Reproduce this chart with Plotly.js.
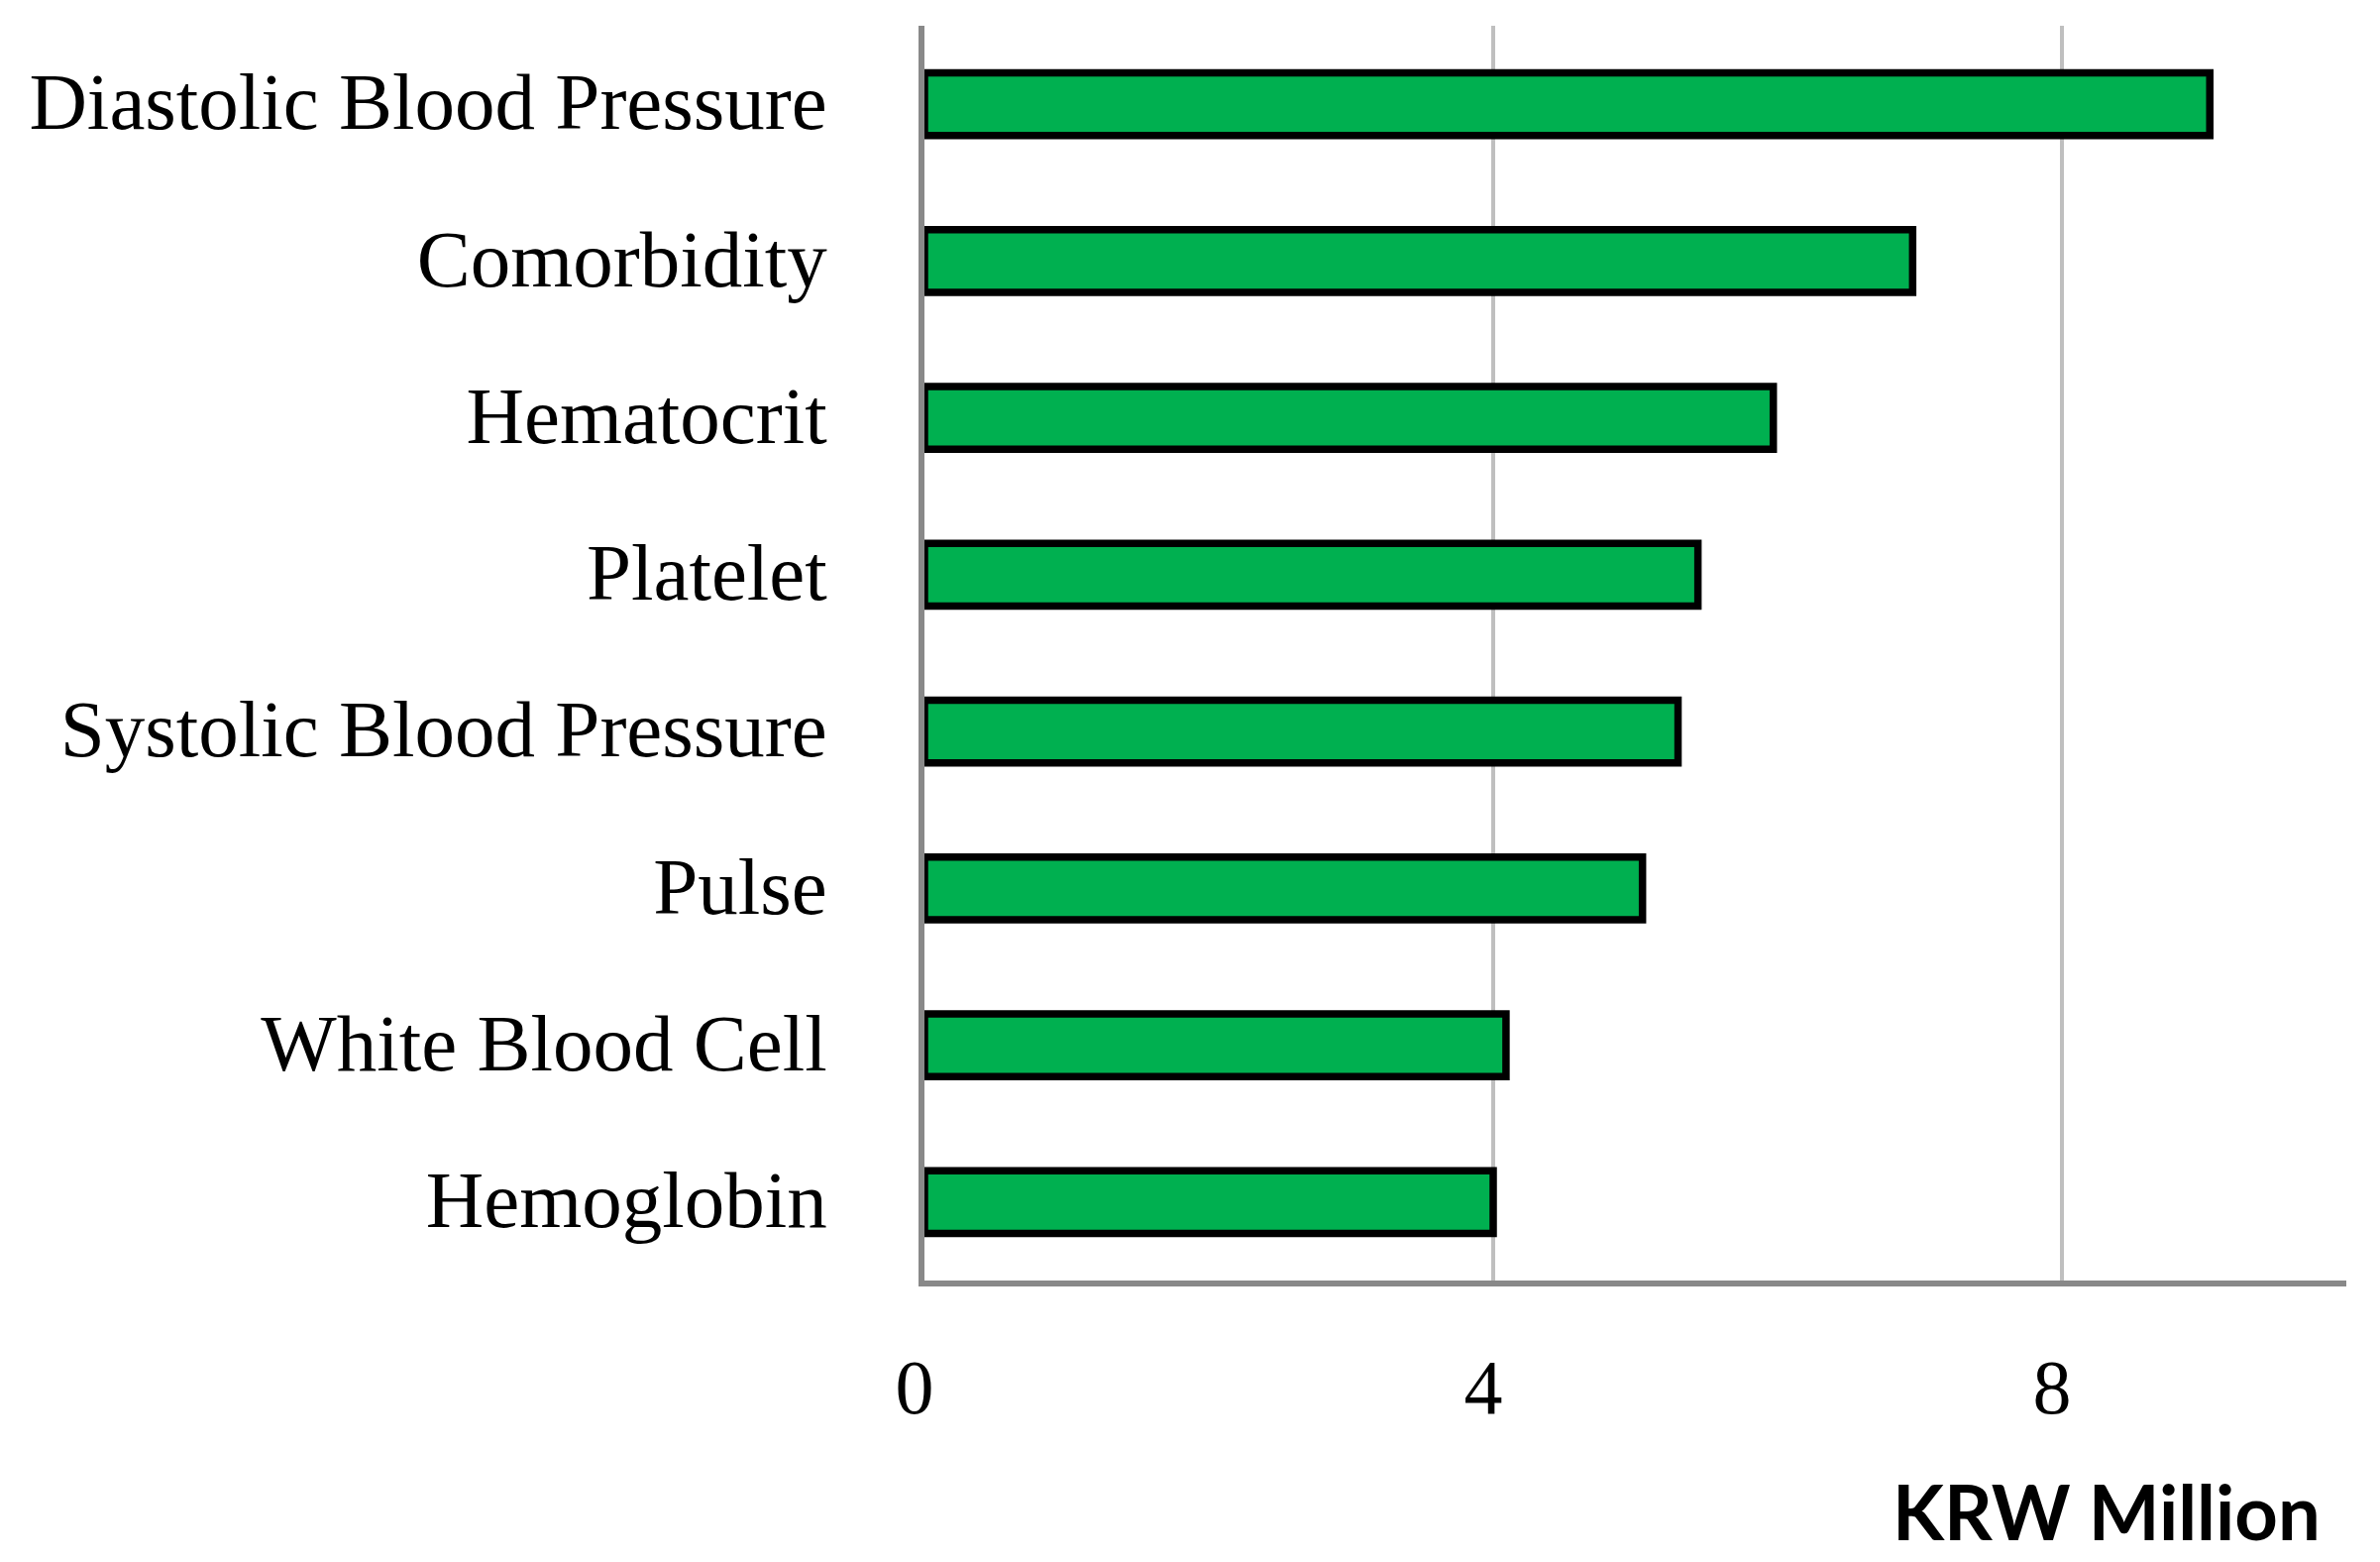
<!DOCTYPE html>
<html>
<head>
<meta charset="utf-8">
<script src="https://cdn.plot.ly/plotly-3.0.1.min.js"></script>
<style>
  html, body { margin: 0; padding: 0; background: #ffffff; }
  #chart { width: 2402px; height: 1576px; }
</style>
</head>
<body>
<div id="chart"></div>
<script>
// Categories, top to bottom
const categories = [
  "Diastolic Blood Pressure",
  "Comorbidity",
  "Hematocrit",
  "Platelet",
  "Systolic Blood Pressure",
  "Pulse",
  "White Blood Cell",
  "Hemoglobin"
];
// Values in KRW Million
const values = [9.04, 6.95, 5.97, 5.44, 5.30, 5.05, 4.09, 4.00];
const xTickValues = [0, 4, 8];
const xTickLabels = ["0", "4", "8"];
const xAxisTitle = "KRW Million";

const trace = {
  type: "bar",
  orientation: "h",
  y: categories,
  x: values,
  marker: {
    color: "#00B050",
    line: { color: "#000000", width: 7.5 }
  },
  hoverinfo: "x+y"
};

const serif = "'Liberation Serif', 'Times New Roman', serif";

const layout = {
  width: 2402,
  height: 1576,
  margin: { l: 933, r: 34, t: 26, b: 284, pad: 0 },
  paper_bgcolor: "#ffffff",
  plot_bgcolor: "#ffffff",
  showlegend: false,
  bargap: 0.6,
  xaxis: {
    range: [0, 10],
    tickvals: xTickValues,
    ticktext: xTickLabels,
    showgrid: true,
    gridcolor: "#BFBFBF",
    gridwidth: 4,
    zeroline: false,
    showline: true,
    linecolor: "#898989",
    linewidth: 6,
    ticks: "outside",
    ticklen: 34,
    tickcolor: "rgba(0,0,0,0)",
    ticklabelshift: -10,
    tickfont: { family: serif, size: 78, color: "#000000" },
    fixedrange: true
  },
  yaxis: {
    type: "category",
    autorange: "reversed",
    showgrid: false,
    zeroline: false,
    showline: true,
    linecolor: "#898989",
    linewidth: 6,
    ticks: "outside",
    ticklen: 76,
    tickcolor: "rgba(0,0,0,0)",
    ticklabelshift: 3,
    tickfont: { family: serif, size: 81, color: "#000000" },
    fixedrange: true
  },
  annotations: [{
    text: "<b>" + xAxisTitle + "</b>",
    xref: "paper",
    yref: "paper",
    x: 1,
    y: -0.184,
    xanchor: "right",
    yanchor: "middle",
    xshift: -24,
    showarrow: false,
    font: { family: "Lato, 'Open Sans', sans-serif", size: 76, color: "#000000" }
  }]
};

Plotly.newPlot("chart", [trace], layout, { displayModeBar: false, staticPlot: true });
</script>
</body>
</html>
